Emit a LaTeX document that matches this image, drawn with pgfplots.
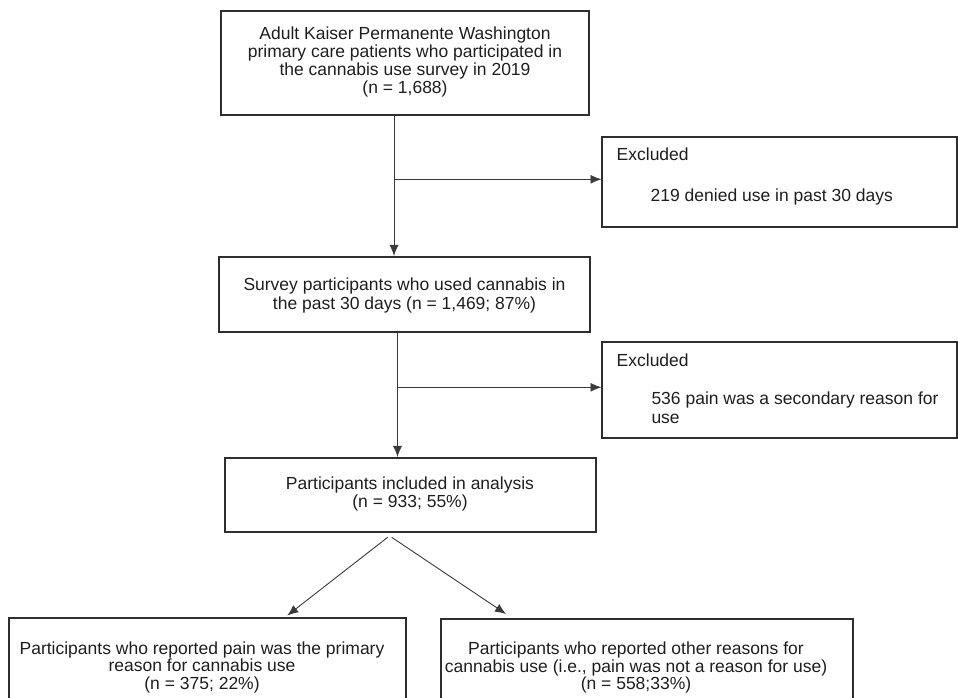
\documentclass[border=0pt]{standalone}
\usepackage{pgfplots}
\pgfplotsset{compat=1.18}
\usepackage{fontspec}
\setmainfont{Liberation Sans}
\usetikzlibrary{arrows.meta}
\definecolor{boxc}{HTML}{2E2E2E}
\definecolor{arrc}{HTML}{3A3A3A}
\definecolor{txtc}{HTML}{1E1E1E}
\newcommand{\fs}{\fontsize{17.5}{18}\selectfont}
\tikzset{t/.style={font=\fs, text=txtc, inner sep=0pt, outer sep=0pt}}
\begin{document}
\begin{tikzpicture}
\begin{axis}[
  scale only axis, width=958pt, height=698pt,
  xmin=0, xmax=958, ymin=-698, ymax=0,
  axis lines=none, clip=true,
]
\pgfplotsset{bx/.style={draw=boxc, line width=1.8pt, line cap=rect, line join=miter, mark=none},
             ar/.style={draw=arrc, line width=0.9pt, mark=none, -{Latex[length=11pt,width=9pt]}},
             ln/.style={draw=arrc, line width=0.9pt, mark=none}}
% boxes
\addplot[bx] coordinates {(220.7,-10.7) (589.3,-10.7) (589.3,-115) (220.7,-115) (220.7,-10.7)};
\addplot[bx] coordinates {(602,-137) (957,-137) (957,-226.7) (602,-226.7) (602,-137)};
\addplot[bx] coordinates {(219,-257.3) (590,-257.3) (590,-332) (219,-332) (219,-257.3)};
\addplot[bx] coordinates {(602,-341.7) (957,-341.7) (957,-438.3) (602,-438.3) (602,-341.7)};
\addplot[bx] coordinates {(225,-458) (595.6,-458) (595.6,-532.3) (225,-532.3) (225,-458)};
\addplot[bx] coordinates {(9.3,-698) (9.3,-618.3) (406,-618.3) (406,-698)};
\addplot[bx] coordinates {(441,-698) (441,-619.3) (853,-619.3) (853,-698)};
% arrows
\addplot[ar] coordinates {(394,-115) (394,-256)};
\addplot[ar] coordinates {(394.5,-179.3) (601.5,-179.3)};
\addplot[ln] coordinates {(397.5,-332) (397.5,-400)};
\addplot[ar] coordinates {(397.5,-399) (397.5,-457)};
\addplot[ar] coordinates {(398,-387.3) (601.5,-387.3)};
\addplot[ar] coordinates {(387.7,-537.3) (287.3,-615.5)};
\addplot[ar] coordinates {(391.7,-537.3) (506,-614)};
% texts
\node[t, anchor=base] at (405,-40) {Adult Kaiser Permanente Washington};
\node[t, anchor=base] at (405,-58) {primary care patients who participated in};
\node[t, anchor=base] at (405,-76) {the cannabis use survey in 2019};
\node[t, anchor=base] at (405,-94) {(n = 1,688)};
\node[t, anchor=base west] at (616.7,-160.7) {Excluded};
\node[t, anchor=base west] at (650.7,-201.7) {219 denied use in past 30 days};
\node[t, anchor=base] at (404.5,-291) {Survey participants who used cannabis in};
\node[t, anchor=base] at (404.5,-309.5) {the past 30 days (n = 1,469; 87\%)};
\node[t, anchor=base west] at (616.7,-366.7) {Excluded};
\node[t, anchor=base west] at (651.5,-405) {536 pain was a secondary reason for};
\node[t, anchor=base west] at (651.5,-424) {use};
\node[t, anchor=base] at (410,-490) {Participants included in analysis};
\node[t, anchor=base] at (410,-508) {(n = 933; 55\%)};
\node[t, anchor=base] at (202,-654.3) {Participants who reported pain was the primary};
\node[t, anchor=base] at (202,-671.7) {reason for cannabis use};
\node[t, anchor=base] at (202,-689.3) {(n = 375; 22\%)};
\node[t, anchor=base] at (636,-655) {Participants who reported other reasons for};
\node[t, anchor=base] at (636,-672.5) {cannabis use (i.e., pain was not a reason for use)};
\node[t, anchor=base] at (636,-690) {(n = 558;33\%)};
\end{axis}
\pgfresetboundingbox
\useasboundingbox (current axis.south west) rectangle (current axis.north east);
\end{tikzpicture}
\end{document}
